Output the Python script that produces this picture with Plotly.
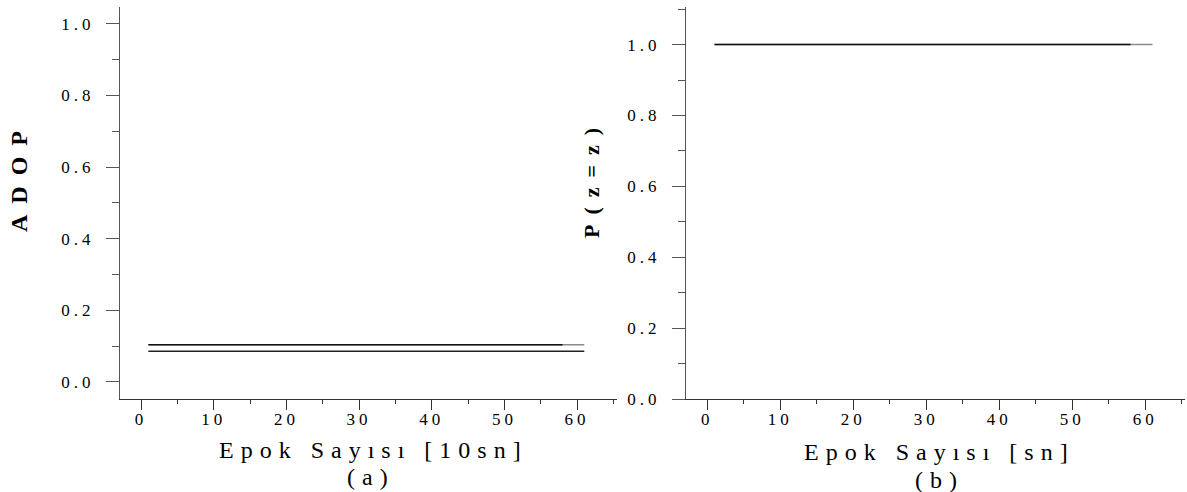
import plotly.graph_objects as go

# ---------------- data ----------------
epochs = list(range(1, 62))          # epoch numbers 1..61
epochs_dark = list(range(1, 59))     # darker overlay part, 1..58
adop_upper = [0.104] * 61            # panel (a), upper line
adop_lower = [0.086] * 61            # panel (a), lower line
p_success = [1.0] * 61               # panel (b)

x_tick_vals = [0, 10, 20, 30, 40, 50, 60]
x_tick_text = ["0", "10", "20", "30", "40", "50", "60"]
y_tick_vals = [0.0, 0.2, 0.4, 0.6, 0.8, 1.0]
y_tick_text = ["0.0", "0.2", "0.4", "0.6", "0.8", "1.0"]

xtitle_a = "Epok Sayısı [10sn]"
xtitle_b = "Epok Sayısı [sn]"
ytitle_a = "ADOP"
ytitle_b = "P(z=z)"
label_a = "(a)"
label_b = "(b)"

# ---------------- styling ----------------
W, H = 1187, 492
FONT = "Liberation Serif, Times New Roman, serif"
AX = "#555555"
AXX = "#333333"


def sp(t, px):
    return f'<span style="letter-spacing:{px}px">{t}</span>'


def px_x(p):
    return p / W


def px_y(p):
    return (H - p) / H


fig = go.Figure()

fig.add_trace(go.Scatter(x=epochs, y=adop_upper, mode="lines",
                         line=dict(color="#8a8a8a", width=1.6),
                         xaxis="x", yaxis="y", hoverinfo="skip"))
fig.add_trace(go.Scatter(x=epochs_dark, y=adop_upper[:len(epochs_dark)], mode="lines",
                         line=dict(color="#111111", width=1.6),
                         xaxis="x", yaxis="y", hoverinfo="skip"))
fig.add_trace(go.Scatter(x=epochs, y=adop_lower, mode="lines",
                         line=dict(color="#222222", width=1.6),
                         xaxis="x", yaxis="y", hoverinfo="skip"))
fig.add_trace(go.Scatter(x=epochs, y=p_success, mode="lines",
                         line=dict(color="#8a8a8a", width=1.6),
                         xaxis="x2", yaxis="y2", hoverinfo="skip"))
fig.add_trace(go.Scatter(x=epochs_dark, y=p_success[:len(epochs_dark)], mode="lines",
                         line=dict(color="#111111", width=1.6),
                         xaxis="x2", yaxis="y2", hoverinfo="skip"))

tickfont = dict(family=FONT, size=17, color="black")

xaxis_common = dict(
    range=[-2.9, 65.5], showgrid=False, zeroline=False,
    showline=True, linecolor=AXX, linewidth=1.4,
    ticks="outside", ticklen=10, tickwidth=1.2, tickcolor=AXX,
    tickmode="array", tickvals=x_tick_vals,
    ticktext=[sp(t, 4) for t in x_tick_text],
    tickfont=tickfont, ticklabelstandoff=-6,
    minor=dict(dtick=5, tick0=0, ticks="outside", ticklen=4,
               tickcolor=AXX, tickwidth=1.2, showgrid=False),
    automargin=False, fixedrange=True,
)
yaxis_common = dict(
    showgrid=False, zeroline=False,
    showline=True, linecolor=AX, linewidth=1.4,
    ticks="outside", ticklen=13, tickwidth=1.2, tickcolor=AX,
    tickmode="array", tickvals=y_tick_vals,
    ticktext=[sp(t, 4) for t in y_tick_text],
    tickfont=tickfont, ticklabelstandoff=8,
    minor=dict(dtick=0.1, tick0=0, ticks="outside", ticklen=7,
               tickcolor=AX, tickwidth=1.2, showgrid=False),
    automargin=False, fixedrange=True,
)

ydom = [px_y(399), px_y(7)]

fig.update_layout(
    width=W, height=H,
    margin=dict(l=0, r=0, t=0, b=0),
    paper_bgcolor="white", plot_bgcolor="white",
    showlegend=False,
    xaxis=dict(domain=[px_x(120), px_x(617)], anchor="y", **xaxis_common),
    yaxis=dict(domain=ydom, anchor="x", range=[-0.0475, 1.047], **yaxis_common),
    xaxis2=dict(domain=[px_x(686), px_x(1185.3)], anchor="y2", **xaxis_common),
    yaxis2=dict(domain=ydom, anchor="x2", range=[0, 1.106], **yaxis_common),
)

title_font = dict(family=FONT, size=24, color="black")
ann = [
    dict(text=sp(xtitle_a, 7), x=px_x(373), y=px_y(450)),
    dict(text=sp(label_a, 7), x=px_x(371), y=px_y(477)),
    dict(text=sp(xtitle_b, 7), x=px_x(939), y=px_y(452)),
    dict(text=sp(label_b, 7), x=px_x(939), y=px_y(480)),
]
for a in ann:
    fig.add_annotation(xref="paper", yref="paper", xanchor="center", yanchor="middle",
                       showarrow=False, font=title_font, **a)

fig.add_annotation(text="<b>" + sp(ytitle_a, 11) + "</b>", xref="paper", yref="paper",
                   x=px_x(19), y=px_y(176), xanchor="center", yanchor="middle",
                   textangle=-90, showarrow=False,
                   font=dict(family=FONT, size=24, color="black"))
fig.add_annotation(text="<b>" + sp(ytitle_b, 10) + "</b>", xref="paper", yref="paper",
                   x=px_x(591), y=px_y(178), xanchor="center", yanchor="middle",
                   textangle=-90, showarrow=False,
                   font=dict(family=FONT, size=22, color="black"))

fig.write_html(
    "out.html",
    config={"displayModeBar": False},
    post_script="document.body.style.margin='0';document.body.style.padding='0';",
)
